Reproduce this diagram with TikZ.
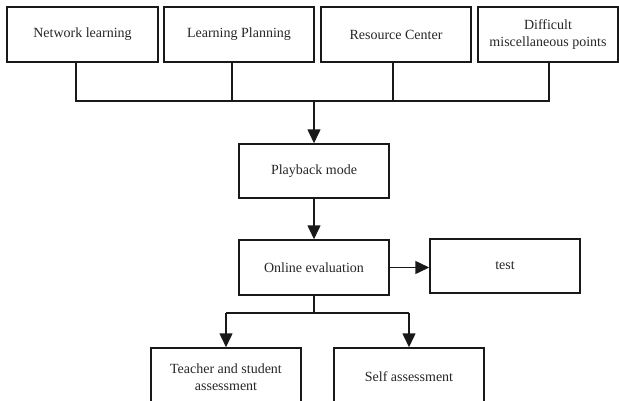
\documentclass[tikz,border=0pt]{standalone}
\usepackage{fontspec}
\setmainfont{Liberation Serif}
\usetikzlibrary{arrows.meta,calc}
\begin{document}
\begin{tikzpicture}[x=1pt,y=-1pt,
  box/.style={draw=black!90,line width=1.5pt,rectangle,align=center,inner sep=0pt,
    font=\fontsize{14}{16.5}\selectfont,text=black!85},
  conn/.style={line width=1.5pt,draw=black!90},
  arr/.style={conn,-{Triangle[width=13pt,length=14pt]}}]
\useasboundingbox (0,0) rectangle (619,400);
\clip (0,0) rectangle (619,400);
\node[box,minimum width=151pt,minimum height=55pt] (n1) at (82.5,34.5) {Network learning};
\node[box,minimum width=150pt,minimum height=55pt] (n2) at (239,34.5) {Learning Planning};
\node[box,minimum width=150pt,minimum height=55pt] (n3) at (396,34.5) {Resource Center};
\node[box,minimum width=140pt,minimum height=55pt] (n4) at (548,34.5) {Difficult\\miscellaneous points};
\node[box,minimum width=150pt,minimum height=54pt] (pb) at (314,171) {Playback mode};
\node[box,minimum width=150pt,minimum height=55pt] (oe) at (314,267.5) {Online evaluation};
\node[box,minimum width=150pt,minimum height=54pt] (ts) at (505,266) {test};
\node[box,minimum width=150pt,minimum height=58pt] (te) at (226,377) {Teacher and student\\assessment};
\node[box,minimum width=150pt,minimum height=58pt] (sa) at (409,377) {Self assessment};
\coordinate (b1) at (76,101);
\coordinate (b2) at (232,101);
\coordinate (b3) at (393,101);
\coordinate (b4) at (549,101);
\coordinate (bm) at (314,101);
\coordinate (s0) at (314,313);
\coordinate (sl) at (226,313);
\coordinate (sr) at (409,313);
\draw[conn] (n1.south -| b1) -- (b1) -- (b4) -- (n4.south -| b4);
\draw[conn] (n2.south -| b2) -- (b2);
\draw[conn] (n3.south -| b3) -- (b3);
\draw[arr] (bm) -- (pb.north);
\draw[arr] (pb.south) -- (oe.north);
\draw[arr] (oe.east) -- (ts.west |- oe.east);
\draw[conn] (oe.south) -- (s0);
\draw[conn] (sl) -- (sr);
\draw[arr] (sl) -- (te.north);
\draw[arr] (sr) -- (sa.north);
\end{tikzpicture}
\end{document}
